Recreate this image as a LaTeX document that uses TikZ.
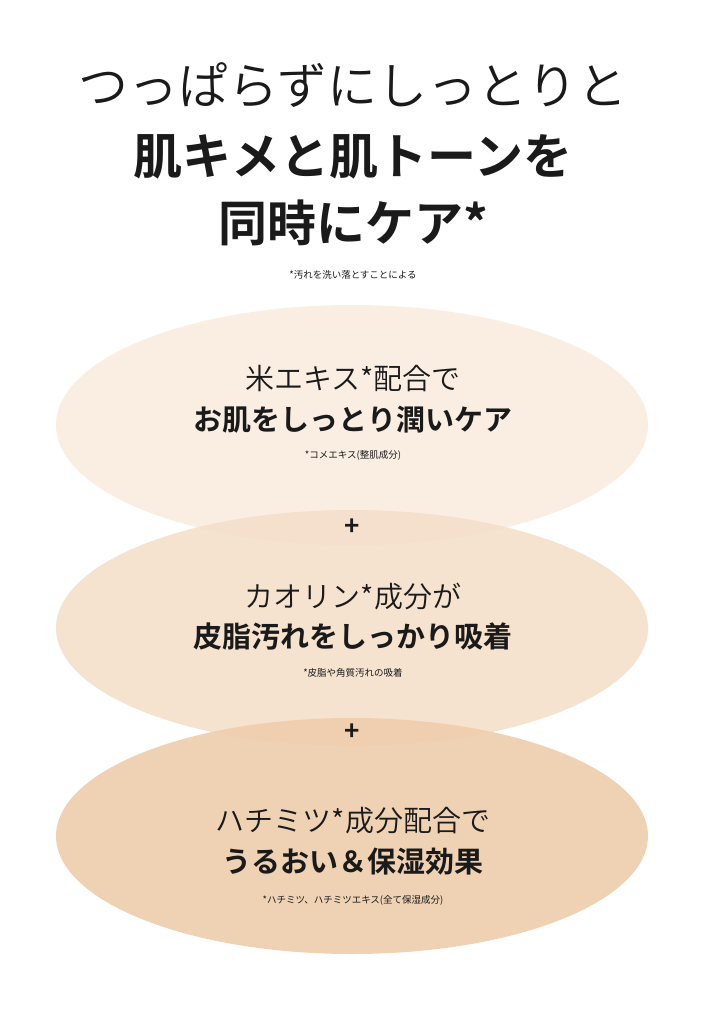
\documentclass[tikz,border=0pt]{standalone}
\usepackage{fontspec}
\newfontfamily\jp{Noto Sans CJK JP}[BoldFont={Noto Sans CJK JP Bold}]
\newfontfamily\jplight{Noto Sans CJK JP DemiLight}
\definecolor{beigeA}{HTML}{FAEDE2}
\definecolor{beigeB}{HTML}{F4DFCA}
\definecolor{beigeC}{HTML}{EFCFAF}
\definecolor{ink}{HTML}{1A1A1A}
\begin{document}
\begin{tikzpicture}[x=1pt,y=-1pt,
  every node/.style={text=ink,inner sep=0pt},
  Lead/.style={font=\jplight\fontsize{29}{29}\selectfont},
  Key/.style={font=\jp\bfseries\fontsize{29}{29}\selectfont},
  Note/.style={font=\jp\fontsize{9.5}{9.5}\selectfont}]
\useasboundingbox[fill=white] (0,0) rectangle (707,1024);
% title
\node (t1) at (353,85) {\jplight\fontsize{50}{50}\selectfont つっぱらずにしっとりと};
\node (t2) at (353,157) {\jp\bfseries\fontsize{49}{49}\selectfont 肌キメと肌トーンを};
\node (t3) at (353,223) {\jp\bfseries\fontsize{49}{49}\selectfont 同時にケア*};
\node[Note] (tn) at (353,275) {*汚れを洗い落とすことによる};
% ellipses
\fill[beigeA] (352,425) ellipse [x radius=296,y radius=120];
\fill[beigeB,fill opacity=0.9] (352,628) ellipse [x radius=296,y radius=118];
\fill[beigeC,fill opacity=0.95] (352,836) ellipse [x radius=296,y radius=118];
% first
\node[Lead] (a1) at (353,379) {米エキス*配合で};
\node[Key] (a2) at (353,420) {お肌をしっとり潤いケア};
\node[Note] (a3) at (353,455) {*コメエキス(整肌成分)};
\node (p1) at (352,527) {\jp\bfseries\fontsize{26}{26}\selectfont +};
% second
\node[Lead] (b1) at (353,596) {カオリン*成分が};
\node[Key] (b2) at (353,637) {皮脂汚れをしっかり吸着};
\node[Note] (b3) at (353,673) {*皮脂や角質汚れの吸着};
\node (p2) at (352,732) {\jp\bfseries\fontsize{26}{26}\selectfont +};
% third
\node[Lead] (c1) at (353,821) {ハチミツ*成分配合で};
\node[Key] (c2) at (353,862) {うるおい＆保湿効果};
\node[Note] (c3) at (353,900) {*ハチミツ、ハチミツエキス(全て保湿成分)};
\end{tikzpicture}
\end{document}
